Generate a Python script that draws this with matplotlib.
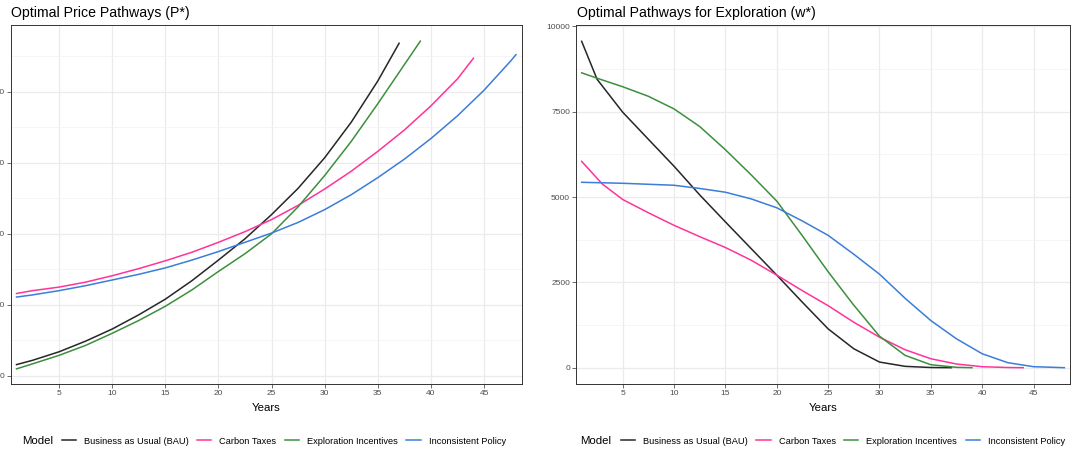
import numpy as np
import matplotlib.pyplot as plt
from matplotlib.lines import Line2D

plt.rcParams['font.family'] = ['Liberation Sans', 'DejaVu Sans']

models = ['Business as Usual (BAU)', 'Carbon Taxes', 'Exploration Incentives', 'Inconsistent Policy']
colors = ['#262626', '#FF3399', '#3C8F3C', '#3B7DD8']

# left panel: optimal price P* (axis units, labels are cut off in the original)
price_bau_years = [1, 2.5, 5, 7.5, 10, 12.5, 15, 17.5, 20, 22.5, 25, 27.5, 30, 32.5, 35, 37]
price_bau = [16, 22, 34, 49, 66, 86, 108, 134, 163, 193, 227, 264, 307, 357, 415, 468]
price_ct_years = [1, 2.5, 5, 7.5, 10, 12.5, 15, 17.5, 20, 22.5, 25, 27.5, 30, 32.5, 35, 37.5, 40, 42.5, 44]
price_ct = [116, 120, 125, 132, 141, 151, 162, 174, 188, 203, 220, 240, 263, 288, 316, 346, 380, 418, 447]
price_ei_years = [1, 2.5, 5, 7.5, 10, 12.5, 15, 17.5, 20, 22.5, 25, 27.5, 30, 32.5, 35, 37.5, 39]
price_ei = [10, 17, 29, 43, 60, 78, 98, 121, 147, 172, 200, 238, 282, 330, 383, 438, 471]
price_ip_years = [1, 2.5, 5, 7.5, 10, 12.5, 15, 17.5, 20, 22.5, 25, 27.5, 30, 32.5, 35, 37.5, 40, 42.5, 45, 47.5, 48]
price_ip = [111, 114, 120, 127, 135, 143, 152, 163, 175, 188, 201, 216, 234, 255, 279, 305, 334, 366, 402, 443, 452]

# right panel: optimal exploration w*
expl_bau_years = [1, 2.5, 5, 7.5, 10, 12.5, 15, 17.5, 20, 22.5, 25, 27.5, 30, 32.5, 35, 37]
expl_bau = [9561, 8450, 7483, 6690, 5900, 5060, 4270, 3490, 2711, 1915, 1137, 554, 165, 39, 5, 0]
expl_ct_years = [1, 3, 5, 7.5, 10, 12.5, 15, 17.5, 20, 22.5, 25, 27.5, 30, 32.5, 35, 37.5, 40, 42.5, 44]
expl_ct = [6044, 5384, 4926, 4538, 4170, 3838, 3520, 3150, 2711, 2254, 1817, 1331, 894, 525, 262, 107, 29, 5, 0]
expl_ei_years = [1, 2.5, 5, 7.5, 10, 12.5, 15, 17.5, 20, 22.5, 25, 27.5, 30, 32.5, 35, 37.5, 39]
expl_ei = [8638, 8480, 8230, 7950, 7580, 7064, 6384, 5650, 4880, 3860, 2810, 1830, 923, 360, 87, 10, 0]
expl_ip_years = [1, 5, 10, 12.5, 15, 17.5, 20, 22.5, 25, 27.5, 30, 32.5, 35, 37.5, 40, 42.5, 45, 48]
expl_ip = [5431, 5402, 5344, 5250, 5140, 4946, 4684, 4295, 3877, 3323, 2740, 2031, 1380, 845, 408, 146, 29, 0]

W, H = 1073, 454
grey_text = '#4D4D4D'


def style_axes(ax, major, minor, ylabels, ylim):
	ax.set_xlim(0.45, 48.55)
	ax.set_ylim(ylim)
	ax.set_xticks([5, 10, 15, 20, 25, 30, 35, 40, 45])
	ax.set_yticks(major)
	ax.set_yticklabels(ylabels)
	ax.set_yticks(minor, minor=True)
	ax.grid(which='major', color='#EBEBEB', lw=0.9)
	ax.grid(which='minor', axis='y', color='#F2F2F2', lw=0.5)
	ax.set_axisbelow(True)
	ax.tick_params(which='major', length=2.7, width=0.5, color='#333333',
		labelsize=6, labelcolor=grey_text, pad=1.6)
	ax.tick_params(which='minor', length=0)
	for s in ax.spines.values():
		s.set_color('#333333')
		s.set_linewidth(0.7)
	ax.set_xlabel('Years', fontsize=8.2, labelpad=4)


def add_legend(fig, x_model, x_keys):
	fig.text(x_model / W, 13 / H, 'Model', fontsize=8.2, va='center', ha='left')
	handles = [Line2D([], [], color=c, lw=1.1) for c in colors]
	fig.legend(handles, models, loc='center left', bbox_to_anchor=(x_keys / W, 13 / H),
		ncol=4, frameon=False, fontsize=6.7, handlelength=1.53, handletextpad=0.86,
		columnspacing=0.9, borderpad=0, borderaxespad=0)


fig = plt.figure(figsize=(W / 100, H / 100), dpi=100)

ax1 = fig.add_axes([10.7 / W, (H - 384) / H, (521.8 - 10.7) / W, 359 / H])
ax1.plot(price_bau_years, price_bau, color=colors[0], lw=1.1)
ax1.plot(price_ct_years, price_ct, color=colors[1], lw=1.1)
ax1.plot(price_ei_years, price_ei, color=colors[2], lw=1.1)
ax1.plot(price_ip_years, price_ip, color=colors[3], lw=1.1)
style_axes(ax1, [0, 100, 200, 300, 400], [50, 150, 250, 350, 450],
	['0', '100', '200', '300', '400'], (-11.3, 493.7))
fig.text(10.7 / W, (H - 16.5) / H, 'Optimal Price Pathways (P*)', fontsize=10.2, va='baseline')
add_legend(fig, 21.7, 61.7)

ax2 = fig.add_axes([576 / W, (H - 384) / H, (1070 - 576) / W, 359 / H])
ax2.plot(expl_bau_years, expl_bau, color=colors[0], lw=1.1)
ax2.plot(expl_ct_years, expl_ct, color=colors[1], lw=1.1)
ax2.plot(expl_ei_years, expl_ei, color=colors[2], lw=1.1)
ax2.plot(expl_ip_years, expl_ip, color=colors[3], lw=1.1)
style_axes(ax2, [0, 2500, 5000, 7500, 10000], [1250, 3750, 6250, 8750],
	['0', '2500', '5000', '7500', '10000'], (-478, 10039))
fig.text(577 / W, (H - 16.5) / H, 'Optimal Pathways for Exploration (w*)', fontsize=10.2, va='baseline')
add_legend(fig, 580, 621)

fig.savefig('out.png', dpi=100)
